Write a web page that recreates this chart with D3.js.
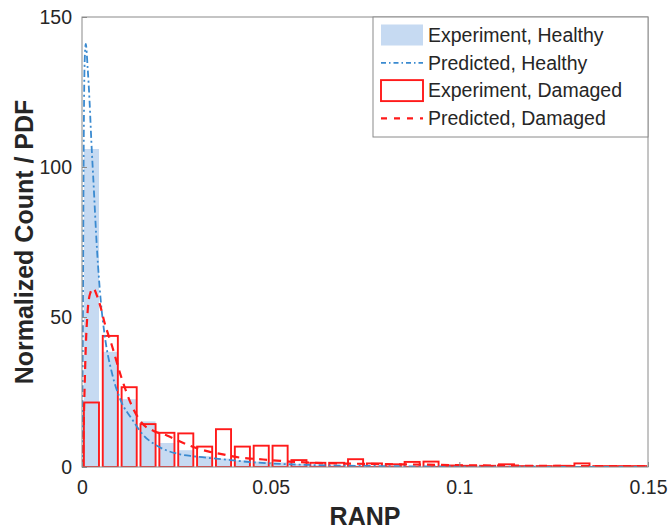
<!DOCTYPE html>
<html>
<head>
<meta charset="utf-8">
<script src="https://cdn.jsdelivr.net/npm/d3@7"></script>
<style>
  body { margin: 0; background: #fff; }
  text { font-family: 'Liberation Sans', Arial, sans-serif; }
</style>
</head>
<body>
<div id="d3-container"></div>
<script>
// histogram bins (RANP), bin width 0.005
const binStarts = d3.range(30).map((i) => i * 0.005);
const binWidth = 0.005;

// Experiment, Healthy (normalized count)
const healthyCounts = [106, 38.4, 22.6, 15.2, 8, 5.6, 3.6, 2.8, 2.2, 1.8,
  1.5, 1.0, 0.8, 0.6, 0.5, 0.4, 0.3, 0.25, 0.2, 0.15,
  0.12, 0.1, 0.08, 0.06, 0.05, 0.04, 0.03, 0.03, 0.02, 0.02];

// Experiment, Damaged (normalized count)
const damagedCounts = [21.5, 43.7, 26.6, 14.3, 11.4, 11.2, 6.8, 12.6, 6.8, 7.1,
  7.1, 2.3, 1.4, 1.4, 2.6, 1.2, 0.9, 1.7, 1.8, 0.5,
  0.4, 0.4, 0.9, 0.3, 0.3, 0.4, 1.2, 0.3, 0.3, 0.3];

// Predicted PDFs
const healthyPdfX = [0, 0.0002, 0.0004, 0.0007, 0.001, 0.0015, 0.002, 0.0025, 0.003, 0.004,
  0.005, 0.006, 0.008, 0.01, 0.0135, 0.016, 0.02, 0.025, 0.03, 0.037,
  0.045, 0.05, 0.06, 0.07, 0.08, 0.1, 0.12, 0.15];
const healthyPdfY = [0, 35, 95, 135, 141, 133, 122, 108, 96, 72,
  55, 44, 31, 23, 15.5, 11, 7, 4.5, 3.5, 2.6,
  1.6, 1.2, 0.7, 0.45, 0.3, 0.15, 0.08, 0.04];

const damagedPdfX = [0, 0.0003, 0.0006, 0.001, 0.0015, 0.0022, 0.003, 0.004, 0.005, 0.006,
  0.0078, 0.0104, 0.013, 0.016, 0.019, 0.0225, 0.026, 0.029, 0.0334, 0.037,
  0.042, 0.046, 0.05, 0.055, 0.062, 0.07, 0.087, 0.1, 0.12, 0.15];
const damagedPdfY = [0, 6, 22, 40, 52, 58, 59.5, 57, 53, 48,
  41, 30, 21, 14.5, 12, 10.5, 8.5, 6.9, 5.2, 4.3,
  3.1, 2.7, 2.3, 1.8, 1.4, 1.15, 0.85, 0.6, 0.4, 0.25];

const xTicks = [0, 0.05, 0.1, 0.15];
const xTickLabels = ['0', '0.05', '0.1', '0.15'];
const yTicks = [0, 50, 100, 150];

const legendLabels = ['Experiment, Healthy', 'Predicted, Healthy', 'Experiment, Damaged', 'Predicted, Damaged'];

function createChart() {
  const width = 670;
  const height = 529;
  const margin = {
    top: 17, bottom: 62, left: 82, right: 22
  };
  const axisColor = '#8a8a8a';
  const textColor = '#262626';
  const blueFill = '#c6daf2';
  const blueLine = '#3a8ad0';
  const red = '#ff1a1a';

  const svg = d3.select('#d3-container')
    .append('svg')
    .attr('width', width)
    .attr('height', height);

  const x = d3.scaleLinear()
    .domain([0, 0.15])
    .range([margin.left, width - margin.right]);

  const y = d3.scaleLinear()
    .domain([0, 150])
    .range([height - margin.bottom, margin.top]);

  const barW = x(binWidth * 0.8) - x(0);
  svg.append('clipPath').attr('id', 'plot-clip')
    .append('rect')
    .attr('x', margin.left)
    .attr('y', margin.top)
    .attr('width', width - margin.left - margin.right)
    .attr('height', height - margin.top - margin.bottom);

  const plot = svg.append('g').attr('clip-path', 'url(#plot-clip)');

  // healthy bars
  plot.append('g')
    .attr('fill', blueFill)
    .selectAll('rect')
    .data(healthyCounts)
    .join('rect')
    .attr('x', (d, i) => x(binStarts[i] + binWidth / 2) - barW / 2)
    .attr('y', (d) => y(d))
    .attr('width', barW)
    .attr('height', (d) => y(0) - y(d));

  // damaged bars
  plot.append('g')
    .attr('fill', 'none')
    .attr('stroke', red)
    .attr('stroke-width', 1.9)
    .selectAll('rect')
    .data(damagedCounts)
    .join('rect')
    .attr('x', (d, i) => x(binStarts[i] + binWidth / 2) - barW / 2)
    .attr('y', (d) => y(d))
    .attr('width', barW)
    .attr('height', (d) => y(0) - y(d));

  const line = d3.line()
    .x((d) => x(d[0]))
    .y((d) => y(d[1]))
    .curve(d3.curveMonotoneX);

  plot.append('path')
    .datum(d3.zip(healthyPdfX, healthyPdfY))
    .attr('fill', 'none')
    .attr('stroke', blueLine)
    .attr('stroke-width', 1.8)
    .attr('stroke-dasharray', '7,3,2,3')
    .attr('d', line);

  plot.append('path')
    .datum(d3.zip(damagedPdfX, damagedPdfY))
    .attr('fill', 'none')
    .attr('stroke', red)
    .attr('stroke-width', 2.2)
    .attr('stroke-dasharray', '8,6')
    .attr('d', line);

  // axes box
  svg.append('rect')
    .attr('x', margin.left)
    .attr('y', margin.top)
    .attr('width', width - margin.left - margin.right)
    .attr('height', height - margin.top - margin.bottom)
    .attr('fill', 'none')
    .attr('stroke', axisColor)
    .attr('stroke-width', 1);

  function xAxis(g) {
    g.attr('transform', `translate(0,${height - margin.bottom})`)
      .call(d3.axisBottom(x).tickValues(xTicks)
        .tickFormat((d, i) => xTickLabels[i]).tickSizeInner(-5).tickSizeOuter(0).tickPadding(13))
      .attr('font-size', '19.5px')
      .attr('font-family', "'Liberation Sans', Arial, sans-serif");
    g.select('.domain').remove();
    g.selectAll('line').attr('stroke', axisColor);
    g.selectAll('text').attr('fill', textColor);
  }

  function yAxis(g) {
    g.attr('transform', `translate(${margin.left}, 0)`)
      .call(d3.axisLeft(y).tickValues(yTicks).tickSizeInner(-5).tickSizeOuter(0).tickPadding(10))
      .attr('font-size', '19.5px')
      .attr('font-family', "'Liberation Sans', Arial, sans-serif");
    g.select('.domain').remove();
    g.selectAll('line').attr('stroke', axisColor);
    g.selectAll('text').attr('fill', textColor);
  }

  svg.append('g').call(xAxis);
  svg.append('g').call(yAxis);

  svg.append('text')
    .attr('x', (margin.left + width - margin.right) / 2)
    .attr('y', 525)
    .attr('text-anchor', 'middle')
    .attr('font-size', '25px')
    .attr('font-weight', 'bold')
    .attr('fill', textColor)
    .text('RANP');

  svg.append('text')
    .attr('transform', `translate(33,${(margin.top + height - margin.bottom) / 2}) rotate(-90)`)
    .attr('text-anchor', 'middle')
    .attr('font-size', '25px')
    .attr('font-weight', 'bold')
    .attr('fill', textColor)
    .text('Normalized Count / PDF');

  // legend
  const legend = svg.append('g');
  legend.append('rect')
    .attr('x', 373)
    .attr('y', margin.top)
    .attr('width', width - margin.right - 373)
    .attr('height', 120)
    .attr('fill', '#fff')
    .attr('stroke', axisColor);

  const rowY = (i) => 35 + i * 27.8;
  legend.append('rect')
    .attr('x', 381).attr('y', rowY(0) - 10.5)
    .attr('width', 42).attr('height', 21)
    .attr('fill', blueFill);
  legend.append('line')
    .attr('x1', 381).attr('x2', 423)
    .attr('y1', rowY(1)).attr('y2', rowY(1))
    .attr('stroke', blueLine).attr('stroke-width', 1.8)
    .attr('stroke-dasharray', '5,3,1.5,3');
  legend.append('rect')
    .attr('x', 381).attr('y', rowY(2) - 10.5)
    .attr('width', 42).attr('height', 21)
    .attr('fill', 'none').attr('stroke', red).attr('stroke-width', 1.9);
  legend.append('line')
    .attr('x1', 381).attr('x2', 423)
    .attr('y1', rowY(3)).attr('y2', rowY(3))
    .attr('stroke', red).attr('stroke-width', 2.2)
    .attr('stroke-dasharray', '6,7');

  legend.selectAll('text.lab')
    .data(legendLabels)
    .join('text')
    .attr('class', 'lab')
    .attr('x', 428)
    .attr('y', (d, i) => rowY(i))
    .attr('dy', '0.35em')
    .attr('font-size', '19.5px')
    .attr('fill', textColor)
    .text((d) => d);
}

createChart();
</script>
</body>
</html>
